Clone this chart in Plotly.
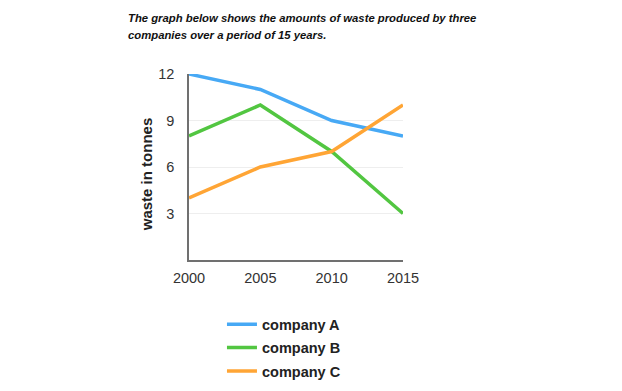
import plotly.graph_objects as go

years = [2000, 2005, 2010, 2015]
company_a = [12, 11, 9, 8]
company_b = [8, 10, 7, 3]
company_c = [4, 6, 7, 10]
series_names = ["company A", "company B", "company C"]
y_ticks = [3, 6, 9, 12]
colors = ["#47A9F5", "#52C641", "#FFA535"]

fig = go.Figure()
for i, (name, vals) in enumerate(zip(series_names, [company_a, company_b, company_c])):
    fig.add_trace(go.Scatter(
        x=years, y=vals, mode="lines", name=name,
        line=dict(color=colors[i], width=3.5),
        legendgroup=name, cliponaxis=False,
    ))

fig.update_layout(
    width=622, height=391,
    margin=dict(l=181, r=227, t=66, b=139, autoexpand=False),
    paper_bgcolor="white", plot_bgcolor="white",
    font=dict(family="Liberation Sans, Arial, sans-serif", color="#333333"),
    showlegend=True,
    legend=dict(
        orientation="v", xref="container", yref="container",
        x=0.344, y=0.232, xanchor="left", yanchor="top",
        font=dict(size=14.5, color="#222222", family="Liberation Sans, Arial, sans-serif", weight="bold"),
        tracegroupgap=1.5, bgcolor="rgba(0,0,0,0)",
    ),
    xaxis=dict(
        range=[2000, 2015], tickvals=years, ticktext=[str(y) for y in years],
        showgrid=False, zeroline=False, showline=True, linecolor="#707070", linewidth=1.5,
        tickfont=dict(size=14.5, color="#333333"), ticks="", ticklabelstandoff=4,
    ),
    yaxis=dict(
        range=[0, 12], tickvals=y_ticks, showgrid=True, gridcolor="#EEEEEE", gridwidth=1,
        zeroline=False, showline=True, linecolor="#707070", linewidth=1.5,
        tickfont=dict(size=14.5, color="#333333"), ticks="", ticklabelstandoff=10,
    ),
    annotations=[
        dict(text="<b><i>The graph below shows the amounts of waste produced by three</i></b>",
             xref="paper", yref="paper", x=-0.295, y=1.0, xanchor="left", yanchor="middle",
             yshift=56, showarrow=False, font=dict(size=11.3, color="#111111")),
        dict(text="<b><i>companies over a period of 15 years.</i></b>",
             xref="paper", yref="paper", x=-0.295, y=1.0, xanchor="left", yanchor="middle",
             yshift=39, showarrow=False, font=dict(size=11.3, color="#111111")),
        dict(text="<b>waste in tonnes</b>", textangle=-90,
             xref="paper", yref="paper", x=-0.197, y=0.46, xanchor="center", yanchor="middle",
             showarrow=False, font=dict(size=15, color="#222222")),
    ],
)

fig.write_html("out.html")
